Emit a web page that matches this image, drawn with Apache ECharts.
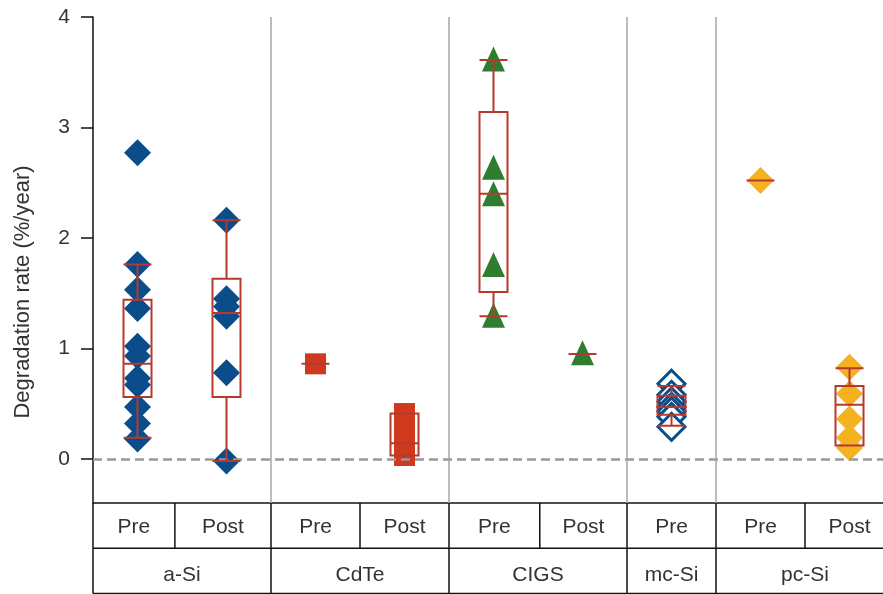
<!DOCTYPE html>
<html><head><meta charset="utf-8">
<script src="https://cdn.jsdelivr.net/npm/echarts@6/dist/echarts.min.js"></script>
<style>html,body{margin:0;padding:0;background:#fff}#c{width:883px;height:594px}</style>
</head><body><div id="c"></div>
<script>
// ---- data ----
const categories = ['a-Si Pre','a-Si Post','CdTe Pre','CdTe Post','CIGS Pre','CIGS Post','mc-Si Pre','pc-Si Pre','pc-Si Post'];
const periods = ['Pre','Post','Pre','Post','Pre','Post','Pre','Pre','Post'];
const groups = ['a-Si','CdTe','CIGS','mc-Si','pc-Si'];
const groupSpans = [2,2,2,1,2];
const yTicks = [0,1,2,3,4];

const aSiPre  = [2.77, 1.76, 1.53, 1.36, 1.02, 0.93, 0.73, 0.67, 0.47, 0.32, 0.18];
const aSiPost = [2.16, 1.45, 1.38, 1.29, 0.78, -0.02];
const cdtePre  = [0.86];
const cdtePost = [0.41, 0.33, 0.26, 0.18, 0.10, 0.03];
const cigsPre  = [3.62, 2.64, 2.40, 1.76, 1.30];
const cigsPost = [0.96];
const mcSiPre  = [0.68, 0.58, 0.52, 0.47, 0.43, 0.38, 0.29];
const pcSiPre  = [2.52];
const pcSiPost = [0.83, 0.59, 0.36, 0.19, 0.10];

// box stats: [min, Q1, median, Q3, max] per category
const boxStats = [
  [0.19, 0.56, 0.86, 1.44, 1.76],
  [-0.02, 0.56, 1.32, 1.63, 2.16],
  [0.86, 0.86, 0.86, 0.86, 0.86],
  [0.03, 0.03, 0.14, 0.41, 0.41],
  [1.29, 1.51, 2.40, 3.14, 3.61],
  [0.95, 0.95, 0.95, 0.95, 0.95],
  [0.30, 0.40, 0.47, 0.57, 0.66],
  [2.52, 2.52, 2.52, 2.52, 2.52],
  [0.12, 0.12, 0.49, 0.66, 0.82]
];

// ---- styling ----
const FONT = '"Liberation Sans", Arial, sans-serif';
const BLUE = '#0b4d8a', RED = '#cf3a1f', GREEN = '#2e7d30', ORANGE = '#f6b11e', BOX = '#b53a2d';
const TXT = '#333';

function pts(idx, arr){ return arr.map(v => [idx, v]); }

const chart = echarts.init(document.getElementById('c'), null, {renderer:'canvas'});
chart.setOption({
  animation:false,
  grid:{left:93, top:17, height:486, width:801, containLabel:false, outerBoundsMode:'none'},
  xAxis:{type:'category', data:categories, boundaryGap:true,
    axisLine:{show:false}, axisTick:{show:false}, axisLabel:{show:false}, splitLine:{show:false}},
  yAxis:{type:'value', min:-0.4, max:4,
    axisLine:{show:true, lineStyle:{color:'#111', width:1.5}},
    axisTick:{show:true, length:12, customValues:yTicks, lineStyle:{color:'#111', width:1.5}},
    axisLabel:{customValues:yTicks, margin:23, fontFamily:FONT, fontSize:21, color:TXT},
    splitLine:{show:false}},
  series:[
    {type:'scatter', name:'a-Si', data:pts(0,aSiPre).concat(pts(1,aSiPost)), symbol:'diamond', symbolSize:27,
      itemStyle:{color:BLUE, opacity:1}, z:2},
    {type:'scatter', name:'CdTe', data:pts(2,cdtePre).concat(pts(3,cdtePost)), symbol:'rect', symbolSize:21,
      itemStyle:{color:RED, opacity:1}, z:2},
    {type:'scatter', name:'CIGS', data:pts(4,cigsPre).concat(pts(5,cigsPost)), symbol:'triangle', symbolSize:[23,25],
      itemStyle:{color:GREEN, opacity:1}, z:2},
    {type:'scatter', name:'mc-Si', data:pts(6,mcSiPre), symbol:'diamond', symbolSize:27,
      itemStyle:{color:'#fff', borderColor:BLUE, borderWidth:3, opacity:1}, z:2},
    {type:'scatter', name:'pc-Si', data:pts(7,pcSiPre).concat(pts(8,pcSiPost)), symbol:'diamond', symbolSize:27,
      itemStyle:{color:ORANGE, opacity:1}, z:2},
    {type:'boxplot', data:boxStats, boxWidth:[28,28],
      itemStyle:{color:'rgba(0,0,0,0)', borderColor:BOX, borderWidth:2},
      emphasis:{disabled:true}, z:5,
      markLine:{silent:true, symbol:'none', label:{show:false},
        lineStyle:{color:'#999', width:2.5, type:[9,5]}, data:[{yAxis:0}]}}
  ]
});

// ---- table & separators drawn from axis positions ----
const p0 = chart.convertToPixel({gridIndex:0}, [0, 0]);
const p1 = chart.convertToPixel({gridIndex:0}, [1, 0]);
const step = p1[0] - p0[0];
const xAt = i => p0[0] + i*step;             // i may be fractional
const yTop = chart.convertToPixel({gridIndex:0}, [0, 4])[1];
const yBot = chart.convertToPixel({gridIndex:0}, [0, -0.4])[1];
const axisX = xAt(-0.5);
const rowH = 45.2;
const W = 883;
const g = [];
const line = (x1,y1,x2,y2,color,w) => g.push({type:'line', silent:true, z:10,
  shape:{x1,y1,x2,y2}, style:{stroke:color, lineWidth:w}});
const text = (x,y,t) => g.push({type:'text', silent:true, z:10, x, y,
  style:{text:t, align:'center', verticalAlign:'middle', font:'21px ' + FONT, fill:TXT}});

// horizontal table lines
line(axisX, yBot, W, yBot, '#111', 1.5);
line(axisX, yBot+rowH, W, yBot+rowH, '#111', 1.5);
line(axisX, yBot+2*rowH, W, yBot+2*rowH, '#111', 1.5);
// axis continued through table
line(axisX, yBot, axisX, yBot+2*rowH, '#111', 1.5);

// sub-row dividers (between Pre/Post in each group) and period labels
const subDiv = [0.42, null, 2.5, null, 4.52, null, null, 7.5, null];
let start = 0;
groupSpans.forEach((span, gi) => {
  const left = xAt(start - 0.5), right = xAt(start + span - 0.5);
  if (gi < groupSpans.length - 1) {
    line(right, yTop, right, yBot, '#a6a6a6', 1.5);
    line(right, yBot, right, yBot+2*rowH, '#111', 1.5);
  }
  let cellLeft = left;
  for (let k = 0; k < span; k++) {
    const ci = start + k;
    let cellRight = (k < span-1) ? xAt(subDiv[ci]) : right;
    if (k < span-1) line(cellRight, yBot, cellRight, yBot+rowH, '#111', 1.5);
    text((cellLeft + cellRight)/2, yBot + rowH/2 + 2, periods[ci]);
    cellLeft = cellRight;
  }
  text((left + right)/2, yBot + rowH*1.5 + 4, groups[gi]);
  start += span;
});

// y-axis name
g.push({type:'text', silent:true, x:23, y:292, rotation:Math.PI/2,
  style:{text:'Degradation rate (%/year)', align:'center', verticalAlign:'middle', font:'22px ' + FONT, fill:TXT}});

chart.setOption({graphic:g});
</script>
</body></html>
